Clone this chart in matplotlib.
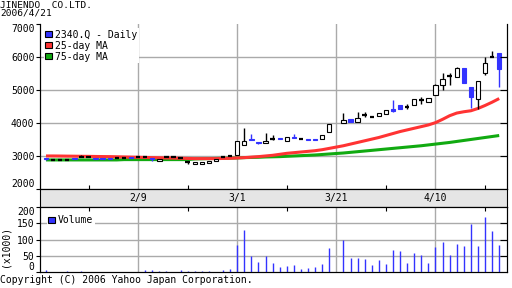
import matplotlib.pyplot as plt
import numpy as np
from matplotlib.patches import Patch

nan = np.nan

# trading-day slots, 2006/1/23 .. 2006/4/21 (slot 41 = 3/21 holiday)
opens = [2945, 2890, 2890, 2890, 2960, 2990, 2980, 2960, 2960, 2960, 2950, 2950, 2970, 2990, 2990, 2960,
         2850, 2970, 2970, 2950, 2830, 2770, 2770, 2810, 2865, 2990, 3010, 3030, 3350, 3530, 3440, 3390,
         3525, 3545, 3470, 3590, 3515, 3530, 3530, 3535, 3735, nan, 4000, 4140, 4040, 4260, 4200, 4220,
         4280, 4430, 4545, 4500, 4545, 4720, 4635, 4850, 5170, 5430, 5395, 5675, 5090, 4730, 5515, 6020, 6120]
closes = [2915, 2890, 2890, 2890, 2930, 2990, 2980, 2930, 2930, 2930, 2950, 2950, 2940, 2990, 2990, 2930,
          2925, 2970, 2970, 2950, 2830, 2820, 2820, 2865, 2925, 2990, 3010, 3470, 3470, 3490, 3400, 3470,
          3525, 3515, 3575, 3560, 3515, 3500, 3500, 3635, 3980, nan, 4100, 4040, 4160, 4260, 4200, 4320,
          4400, 4370, 4425, 4500, 4725, 4720, 4755, 5170, 5330, 5430, 5675, 5210, 4790, 5290, 5820, 6020, 5640]
highs = [2960, 2890, 2890, 2890, 2960, 3030, 2980, 2960, 2960, 2960, 2950, 2950, 2970, 3010, 3010, 2960,
         2925, 2970, 2970, 2965, 2830, 2820, 2820, 2865, 2925, 3015, 3010, 3470, 3850, 3680, 3440, 3700,
         3640, 3545, 3575, 3680, 3515, 3530, 3530, 3635, 3980, nan, 4320, 4140, 4330, 4330, 4220, 4320,
         4400, 4700, 4545, 4580, 4725, 4800, 4755, 5180, 5515, 5515, 5700, 5675, 5090, 5290, 6000, 6180, 6120]
lows = [2900, 2890, 2890, 2890, 2930, 2980, 2980, 2930, 2930, 2930, 2950, 2950, 2940, 2975, 2975, 2850,
        2850, 2970, 2970, 2935, 2770, 2770, 2770, 2790, 2865, 2970, 3010, 3030, 3350, 3490, 3370, 3390,
        3500, 3515, 3470, 3560, 3515, 3500, 3500, 3535, 3735, nan, 4000, 4040, 4040, 4200, 4180, 4220,
        4280, 4330, 4425, 4440, 4545, 4600, 4635, 4850, 5000, 5170, 5395, 5210, 4450, 4420, 5450, 6000, 5090]
volumes = [5, 0, 0, 2, 0, 2, 0, 0, 0, 0, 0, 0, 0, 0, 6, 6, 3, 3, 0, 6, 3, 3, 3, 2, 0, 6, 10, 82, 128, 48,
           32, 48, 29, 16, 20, 22, 10, 13, 16, 26, 75, nan, 97, 44, 44, 41, 23, 37, 26, 69, 64, 29, 60, 53,
           29, 78, 92, 53, 85, 81, 148, 81, 169, 125, 84]
ma25 = [3010, 3010, 3008, 3005, 3003, 3000, 2998, 2995, 2992, 2990, 2985, 2980, 2975, 2970, 2965, 2960,
        2955, 2950, 2945, 2940, 2935, 2930, 2930, 2930, 2930, 2935, 2940, 2950, 2960, 2975, 2990, 3010,
        3030, 3060, 3090, 3110, 3130, 3150, 3170, 3200, 3240, 3280, 3320, 3370, 3420, 3470, 3520, 3570,
        3630, 3690, 3750, 3800, 3850, 3900, 3950, 4020, 4120, 4230, 4310, 4350, 4380, 4450, 4540, 4640, 4750]
ma75 = [2890, 2890, 2890, 2890, 2890, 2890, 2890, 2890, 2890, 2890, 2890, 2900, 2900, 2900, 2900, 2900,
        2900, 2900, 2900, 2900, 2900, 2920, 2925, 2930, 2935, 2940, 2945, 2950, 2960, 2965, 2970, 2980,
        2985, 2990, 3000, 3010, 3020, 3030, 3040, 3055, 3070, 3085, 3100, 3120, 3140, 3160, 3180, 3200,
        3220, 3240, 3260, 3280, 3300, 3320, 3345, 3370, 3395, 3420, 3450, 3480, 3510, 3540, 3570, 3600, 3630]

date_pos = [13, 27, 41, 55]
date_labels = ['2/9', '3/1', '3/21', '4/10']
minor_pos = [6, 20, 34, 48, 62]

BLUE = '#3333ff'
RED = '#ff3333'
GREEN = '#11aa11'
GRID = '#aaaaaa'
FONT = 'DejaVu Sans Mono'
FS = 7

plt.rcParams['font.family'] = FONT
plt.rcParams['font.size'] = FS

o = np.array(opens, float)
c = np.array(closes, float)
h = np.array(highs, float)
l = np.array(lows, float)
v = np.array(volumes, float)
x = np.arange(len(o))
xlim = (-0.85, 65.1)

fig = plt.figure(figsize=(5.12, 2.88), dpi=100)
L, W = 40 / 512, 467 / 512
ax = fig.add_axes([L, 98.7 / 288, W, 165 / 288])
band = fig.add_axes([L, 81 / 288, W, 17.7 / 288])
vax = fig.add_axes([L, 16 / 288, W, 65 / 288])

# ---- price panel
ax.set_xlim(*xlim)
ax.set_ylim(2000, 7000)
for yy in [3000, 4000, 5000, 6000]:
    ax.axhline(yy, color=GRID, lw=1, zorder=0)
for xx in date_pos:
    ax.axvline(xx, color=GRID, lw=1, zorder=0)

ax.plot(x, ma75, color=GREEN, lw=2.2, zorder=2, solid_capstyle='butt')
ax.plot(x, ma25, color=RED, lw=2.2, zorder=3, solid_capstyle='butt')

bw = 0.62
ax.vlines(x, l, h, color=np.where(c < o, BLUE, 'black'), lw=1, zorder=4)
up = c > o
dn = c < o
eq = c == o
ax.bar(x[up], (c - o)[up], bottom=o[up], width=bw, facecolor='white', edgecolor='black', lw=0.8, zorder=5)
ax.bar(x[dn], (o - c)[dn], bottom=c[dn], width=bw, facecolor=BLUE, edgecolor=BLUE, lw=0.8, zorder=5)
ax.hlines(o[eq], x[eq] - bw / 2, x[eq] + bw / 2, color='black', lw=1.6, zorder=5)

ax.set_yticks([2000, 3000, 4000, 5000, 6000, 7000])
ax.set_yticklabels(['2000', '3000', '4000', '5000', '6000', '7000'])
ax.tick_params(axis='y', direction='out', length=3, pad=1, labelsize=FS)
lbls = ax.get_yticklabels()
lbls[0].set_va('bottom')
lbls[-1].set_va('top')
ax.set_xticks(minor_pos)
ax.tick_params(axis='x', direction='in', length=3, labelbottom=False)
ax.spines['top'].set_visible(False)
ax2 = ax.twinx()
ax2.set_ylim(2000, 7000)
ax2.set_yticks([3000, 4000, 5000, 6000])
ax2.tick_params(axis='y', direction='in', length=5, labelright=False)
ax2.spines['top'].set_visible(False)

ax.legend(handles=[Patch(facecolor=BLUE, edgecolor='black', lw=0.8, label='2340.Q - Daily'),
                   Patch(facecolor=RED, edgecolor='black', lw=0.8, label='25-day MA'),
                   Patch(facecolor=GREEN, edgecolor='black', lw=0.8, label='75-day MA')],
          loc='upper left', frameon=True, framealpha=1, edgecolor='none', fancybox=False,
          borderpad=0.15, borderaxespad=0.4, handlelength=0.65, handleheight=0.65,
          handletextpad=0.35, labelspacing=0.1, prop={'family': FONT, 'size': FS})

# ---- date band
band.set_xlim(*xlim)
band.set_ylim(0, 1)
band.set_facecolor('#e5e5e5')
band.set_xticks([])
band.set_yticks([])
for xx, t in zip(date_pos, date_labels):
    band.text(xx, 0.5, t, ha='center', va='center', fontsize=FS)

# ---- volume panel
vax.set_xlim(*xlim)
vax.set_ylim(0, 200)
for yy in [50, 100, 150]:
    vax.axhline(yy, color=GRID, lw=1, zorder=0)
for xx in date_pos:
    vax.axvline(xx, color=GRID, lw=1, zorder=0)
vax.vlines(x, 0, v, color=BLUE, lw=1, zorder=3)
vax.set_yticks([0, 50, 100, 150, 200])
vax.set_yticklabels(['0', '50', '100', '150', '200'])
vax.tick_params(axis='y', direction='out', length=3, pad=1, labelsize=FS)
vl = vax.get_yticklabels()
vl[0].set_va('bottom')
vl[-1].set_va('top')
vax.set_xticks(minor_pos)
vax.tick_params(axis='x', direction='in', length=3, top=True, bottom=False, labelbottom=False)
vax2 = vax.twinx()
vax2.set_ylim(0, 200)
vax2.set_yticks([50, 100, 150])
vax2.tick_params(axis='y', direction='in', length=5, labelright=False)
vax.legend(handles=[Patch(facecolor=BLUE, edgecolor='black', lw=0.8, label='Volume')],
           loc='upper left', frameon=True, framealpha=1, edgecolor='none', fancybox=False,
           borderpad=0.15, borderaxespad=0.7, handlelength=0.65, handleheight=0.65,
           handletextpad=0.35, prop={'family': FONT, 'size': FS})

# ---- texts
fig.text(0.0, 1 - 1 / 288, 'JINENDO  CO.LTD.\n2006/4/21', ha='left', va='top',
         fontsize=6.8, linespacing=0.85)
fig.text(6 / 512, 1 - 246 / 288, '(x1000)', rotation=90, ha='center', va='center', fontsize=FS)
fig.text(0.0, 1 - 283 / 288, 'Copyright (C) 2006 Yahoo Japan Corporation.', ha='left', va='baseline', fontsize=FS)

fig.savefig('out.png', dpi=100)
